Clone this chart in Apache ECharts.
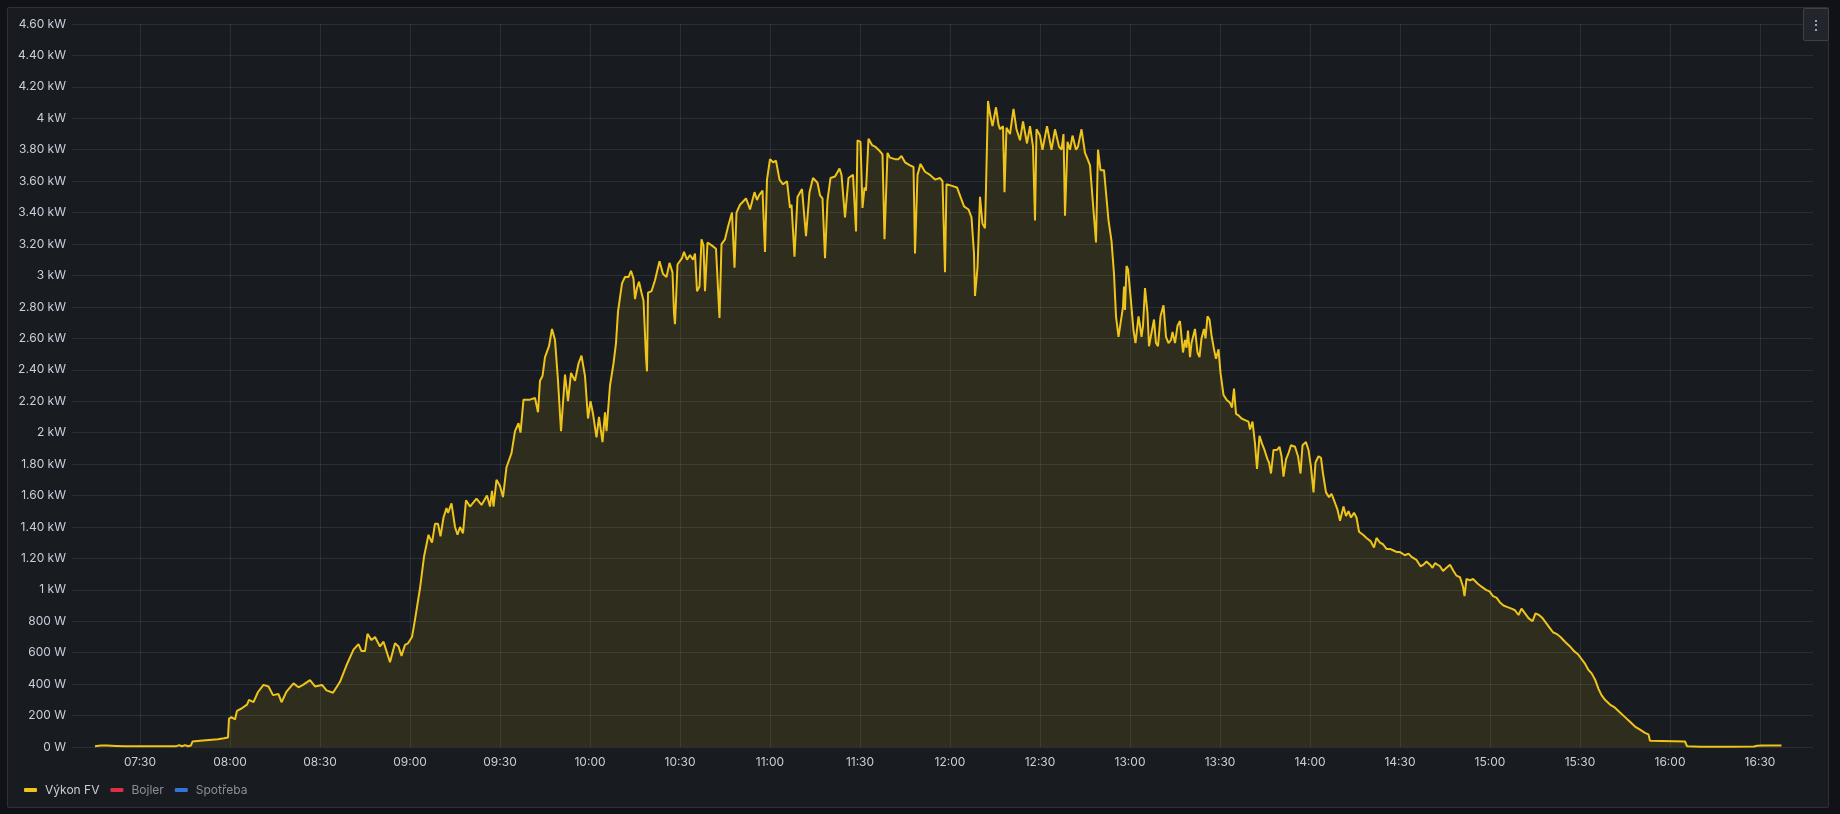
<!DOCTYPE html>
<html>
<head>
<meta charset="utf-8">
<script src="https://cdn.jsdelivr.net/npm/echarts@6/dist/echarts.min.js"></script>
<style>
  html, body { margin:0; padding:0; width:1840px; height:814px; background:#111217; overflow:hidden; }
  #panel { position:absolute; left:7px; top:7px; width:1822px; height:801px; box-sizing:border-box;
           border:1px solid rgba(204,204,220,0.12); border-radius:2px; background:#181b1f; }
  #chart { position:absolute; left:0; top:0; width:1840px; height:814px; z-index:1; }
  #menu { position:absolute; left:1803px; top:8px; width:26px; height:33px; box-sizing:border-box; z-index:2;
          border:1px solid rgba(204,204,220,0.16); border-radius:2px; background:#22252b;
          color:#ccccdc; font:14px Inter, sans-serif; line-height:31px; text-align:center; }
</style>
</head>
<body>
<div id="panel"></div>
<div id="chart"></div>
<div id="menu">⋮</div>
<script>
// ---- data ----
const timeLabels = [
  "07:15:00","07:17:00","07:19:00","07:22:00","07:25:00","07:35:00","07:42:00","07:43:00",
  "07:44:00","07:45:00","07:46:00","07:47:00","07:47:30","07:50:00","07:53:00","07:56:00",
  "07:58:00","07:59:20","07:59:40","08:00:30","08:01:40","08:02:20","08:03:50","08:05:40",
  "08:06:20","08:07:50","08:09:20","08:11:10","08:12:50","08:14:20","08:16:10","08:17:10",
  "08:18:50","08:21:10","08:22:50","08:24:20","08:26:40","08:28:20","08:30:40","08:32:10",
  "08:34:20","08:36:40","08:38:50","08:41:10","08:42:50","08:43:50","08:45:00","08:45:50",
  "08:47:10","08:48:20","08:50:00","08:51:10","08:53:20","08:55:00","08:56:10","08:57:10",
  "08:58:20","08:59:20","09:00:40","09:01:40","09:03:20","09:04:40","09:06:10","09:06:50",
  "09:07:20","09:08:20","09:09:20","09:10:10","09:11:10","09:12:10","09:12:40","09:13:50",
  "09:15:00","09:15:50","09:16:40","09:17:40","09:18:40","09:20:00","09:22:10","09:23:50",
  "09:25:40","09:26:40","09:27:20","09:27:50","09:28:50","09:30:00","09:31:00","09:32:10",
  "09:33:50","09:35:00","09:36:10","09:36:50","09:37:50","09:40:00","09:41:40","09:42:40",
  "09:43:20","09:44:10","09:45:00","09:46:20","09:47:20","09:48:20","09:49:20","09:50:20",
  "09:51:40","09:52:40","09:53:40","09:55:00","09:56:10","09:57:10","09:58:20","09:59:20",
  "10:00:10","10:01:00","10:02:10","10:03:00","10:04:10","10:05:00","10:05:30","10:06:40",
  "10:07:50","10:08:40","10:09:20","10:10:40","10:11:40","10:12:50","10:13:40","10:14:30",
  "10:15:00","10:15:40","10:16:20","10:17:10","10:17:50","10:18:40","10:19:00","10:19:20",
  "10:20:30","10:21:40","10:23:10","10:24:20","10:25:30","10:26:30","10:27:30","10:28:00",
  "10:28:20","10:29:10","10:30:40","10:31:20","10:32:20","10:33:20","10:34:20","10:35:00",
  "10:35:40","10:36:30","10:37:10","10:37:50","10:38:20","10:39:10","10:40:40","10:42:00",
  "10:42:40","10:43:10","10:43:50","10:45:00","10:46:00","10:47:20","10:48:10","10:48:50",
  "10:50:00","10:52:00","10:53:20","10:54:50","10:55:40","10:56:20","10:57:30","10:58:20",
  "10:59:00","11:00:00","11:01:00","11:02:00","11:03:10","11:04:20","11:05:40","11:06:40",
  "11:07:10","11:08:10","11:09:10","11:10:40","11:12:00","11:13:10","11:14:20","11:15:50",
  "11:16:40","11:17:30","11:18:20","11:19:10","11:20:10","11:21:40","11:23:10","11:23:50",
  "11:25:00","11:26:10","11:27:40","11:28:40","11:29:10","11:30:10","11:30:50","11:31:30",
  "11:32:00","11:32:50","11:34:00","11:35:00","11:36:40","11:37:30","11:38:10","11:39:10",
  "11:40:00","11:41:40","11:42:50","11:43:50","11:45:00","11:46:40","11:47:50","11:48:20",
  "11:49:10","11:50:10","11:51:40","11:53:20","11:55:00","11:56:40","11:57:30","11:58:20",
  "11:58:50","12:00:40","12:02:20","12:03:30","12:04:40","12:06:10","12:07:10","12:08:00",
  "12:08:20","12:09:10","12:10:00","12:10:50","12:11:40","12:12:00","12:12:40","12:13:20",
  "12:14:10","12:15:20","12:16:10","12:16:40","12:17:40","12:18:10","12:18:50","12:20:00",
  "12:21:10","12:22:10","12:23:20","12:24:20","12:25:40","12:26:40","12:27:40","12:28:20",
  "12:28:50","12:30:00","12:30:50","12:32:20","12:33:50","12:35:00","12:36:20","12:37:10",
  "12:37:50","12:38:20","12:39:10","12:40:00","12:40:50","12:42:00","12:42:40","12:43:50",
  "12:45:00","12:45:40","12:46:40","12:47:10","12:48:40","12:49:20","12:50:10","12:51:20",
  "12:52:50","12:53:50","12:54:40","12:55:20","12:56:10","12:56:50","12:57:40","12:58:00",
  "12:58:20","12:58:50","12:59:20","13:00:10","13:01:10","13:01:50","13:02:50","13:03:20",
  "13:03:50","13:04:20","13:05:00","13:05:50","13:06:20","13:07:00","13:08:00","13:08:40",
  "13:09:20","13:10:10","13:11:10","13:12:00","13:12:50","13:13:40","13:14:10","13:15:00",
  "13:15:50","13:16:40","13:17:40","13:18:20","13:18:50","13:19:20","13:20:00","13:20:30",
  "13:21:40","13:22:30","13:23:10","13:23:50","13:24:40","13:25:10","13:25:50","13:26:30",
  "13:27:10","13:28:00","13:28:40","13:29:30","13:30:10","13:31:10","13:32:10","13:33:20",
  "13:34:00","13:34:40","13:35:20","13:36:10","13:37:10","13:38:20","13:39:30","13:40:00",
  "13:40:50","13:41:40","13:42:20","13:43:10","13:44:00","13:44:50","13:45:50","13:46:20",
  "13:47:00","13:47:50","13:49:00","13:49:50","13:50:30","13:51:10","13:52:00","13:52:50",
  "13:53:40","13:55:00","13:56:00","13:56:50","13:57:30","13:58:40","13:59:30","14:00:20",
  "14:01:10","14:01:50","14:02:50","14:03:40","14:04:20","14:05:20","14:06:20","14:07:10",
  "14:08:00","14:09:10","14:10:00","14:11:10","14:12:00","14:12:50","14:13:40","14:14:40",
  "14:15:30","14:16:20","14:17:40","14:18:50","14:20:10","14:21:20","14:22:10","14:23:20",
  "14:24:20","14:25:30","14:26:40","14:27:50","14:29:00","14:30:00","14:31:40","14:32:50",
  "14:33:50","14:35:30","14:36:50","14:37:50","14:38:50","14:40:00","14:40:50","14:41:40",
  "14:42:20","14:43:20","14:44:20","14:45:30","14:46:40","14:47:50","14:48:50","14:50:00",
  "14:50:30","14:51:00","14:51:30","14:52:10","14:53:20","14:54:20","14:55:50","14:57:10",
  "14:58:40","14:59:50","15:01:00","15:02:10","15:03:20","15:04:30","15:05:50","15:07:10",
  "15:08:20","15:09:30","15:10:30","15:11:40","15:12:50","15:14:10","15:15:10","15:16:20",
  "15:17:30","15:18:40","15:19:50","15:21:00","15:22:10","15:23:30","15:25:00","15:26:40",
  "15:28:00","15:29:20","15:30:30","15:31:40","15:32:50","15:33:50","15:35:00","15:36:10",
  "15:37:10","15:38:20","15:40:00","15:41:40","15:43:20","15:45:00","15:46:40","15:48:20",
  "15:50:00","15:51:40","15:52:50","15:53:20","15:54:00","16:05:00","16:05:40","16:10:00",
  "16:20:00","16:28:00","16:29:00","16:30:30","16:37:10"
];
// Výkon FV, watts
const pvPowerW = [
  5,10,10,7,4,4,4,12,
  5,12,5,10,35,40,45,50,
  55,60,180,190,175,230,245,270,
  300,285,350,395,385,330,337,285,
  352,405,380,395,425,385,395,360,
  345,415,520,620,655,610,610,720,
  680,700,640,670,540,660,640,580,
  650,660,700,810,1010,1210,1350,1360,
  1300,1420,1420,1340,1460,1520,1490,1550,
  1400,1350,1400,1360,1570,1530,1580,1540,
  1600,1530,1630,1530,1700,1660,1590,1780,
  1870,2010,2060,2000,2210,2210,2220,2130,
  2330,2360,2480,2550,2660,2590,2330,2010,
  2370,2200,2380,2330,2440,2490,2360,2090,
  2200,2120,1970,2100,1940,2130,2010,2300,
  2440,2570,2770,2950,2990,2990,3030,2980,
  2850,2920,2960,2890,2840,2480,2390,2890,
  2900,2970,3090,3010,2990,3080,3020,2760,
  2690,3070,3110,3150,3100,3130,3100,3140,
  2900,2930,3230,3190,2900,3210,3190,3170,
  3170,2730,3200,3230,3310,3400,3050,3400,
  3450,3490,3420,3530,3480,3510,3540,3150,
  3610,3740,3720,3730,3610,3580,3600,3430,
  3450,3120,3500,3550,3250,3530,3620,3590,
  3510,3490,3110,3480,3620,3630,3680,3640,
  3370,3620,3640,3280,3860,3850,3430,3560,
  3540,3870,3830,3820,3790,3770,3230,3780,
  3750,3740,3740,3760,3720,3700,3690,3140,
  3640,3710,3660,3640,3610,3620,3600,3020,
  3580,3570,3560,3500,3440,3420,3370,3140,
  2870,3050,3500,3330,3300,3560,4110,4030,
  3950,4070,3960,3930,3950,3530,3940,3900,
  4060,3930,3860,3980,3840,3950,3820,3350,
  3930,3890,3800,3950,3800,3930,3820,3800,
  3900,3380,3850,3800,3890,3800,3820,3930,
  3780,3750,3700,3710,3210,3800,3670,3670,
  3350,3220,3010,2740,2610,2600,2800,2930,
  2780,3060,3040,2870,2650,2570,2740,2680,
  2610,2680,2920,2760,2550,2540,2720,2570,
  2550,2740,2810,2610,2570,2590,2640,2570,
  2680,2710,2510,2590,2540,2650,2480,2570,
  2660,2510,2480,2600,2660,2600,2740,2720,
  2620,2530,2470,2530,2380,2240,2210,2190,
  2160,2280,2120,2110,2090,2080,2070,2020,
  2070,1930,1770,1980,1930,1890,1830,1810,
  1740,1890,1890,1910,1850,1720,1830,1870,
  1920,1910,1850,1740,1920,1940,1890,1780,
  1620,1810,1850,1840,1740,1620,1590,1610,
  1570,1510,1440,1530,1470,1500,1460,1490,
  1460,1370,1350,1330,1310,1270,1330,1300,
  1290,1260,1260,1250,1240,1240,1220,1230,
  1210,1190,1150,1160,1180,1160,1140,1170,
  1180,1150,1120,1140,1160,1120,1090,1080,
  1070,1020,960,1070,1060,1070,1040,1020,
  1000,990,960,950,920,900,890,880,
  870,840,880,850,820,800,850,840,
  820,790,760,730,720,700,670,640,
  610,590,560,530,490,470,430,370,
  330,300,270,250,220,190,160,130,
  110,90,80,40,35,35,5,2,
  2,3,8,10,10
];
const bojlerW = [];
const spotrebaW = [];
const seriesNames = ["Výkon FV", "Bojler", "Spotřeba"];
const yTickLabels = ["0 W","200 W","400 W","600 W","800 W","1 kW","1.20 kW","1.40 kW","1.60 kW","1.80 kW",
  "2 kW","2.20 kW","2.40 kW","2.60 kW","2.80 kW","3 kW","3.20 kW","3.40 kW","3.60 kW","3.80 kW",
  "4 kW","4.20 kW","4.40 kW","4.60 kW"];
const axisStart = "07:07:20";   // left edge of the plot
const axisEnd = "16:47:40";     // right edge of the plot
const tickAnchor = "07:00:00";  // 30-minute tick grid is counted from here
const tickStepMin = 30;

if (timeLabels.length !== pvPowerW.length) {
  throw new Error("length mismatch " + timeLabels.length + " vs " + pvPowerW.length);
}

function toMin(s) {
  const p = s.split(":").map(Number);
  return p[0] * 60 + p[1] + (p[2] || 0) / 60;
}
const pvData = timeLabels.map((t, i) => [toMin(t), pvPowerW[i]]);

const pad = n => (n < 10 ? "0" : "") + n;
const fmtMin = v => { const m = Math.round(v); return pad(Math.floor(m / 60)) + ":" + pad(m % 60); };

const PLOT_LEFT = 72, PLOT_RIGHT = 27, PLOT_TOP = 24, PLOT_BOTTOM = 67;
const W = 1840;
const pxPerMin = (W - PLOT_LEFT - PLOT_RIGHT) / (toMin(axisEnd) - toMin(axisStart));
const tickGridLeft = PLOT_LEFT - (toMin(axisStart) - toMin(tickAnchor)) * pxPerMin;

const chart = echarts.init(document.getElementById("chart"), null, { renderer: "canvas" });
const gridColor = "rgba(240,250,255,0.09)";
const textColor = "#ccccdc";
const font = "Inter";
const lineColor = "#eec41a";

chart.setOption({
  backgroundColor: "transparent",
  animation: false,
  textStyle: { fontFamily: font },
  grid: [
    { left: PLOT_LEFT, right: PLOT_RIGHT, top: PLOT_TOP, bottom: PLOT_BOTTOM, containLabel: false },
    { left: tickGridLeft, right: PLOT_RIGHT, top: PLOT_TOP, bottom: PLOT_BOTTOM, containLabel: false }
  ],
  xAxis: [
    {
      type: "value", gridIndex: 0,
      min: toMin(axisStart), max: toMin(axisEnd),
      axisLine: { show: false }, axisTick: { show: false },
      axisLabel: { show: false }, splitLine: { show: false }
    },
    {
      type: "value", gridIndex: 1,
      min: toMin(tickAnchor), max: toMin(axisEnd), interval: tickStepMin,
      axisLine: { show: false }, axisTick: { show: false },
      splitLine: { show: true, showMinLine: false, showMaxLine: false, lineStyle: { color: gridColor, width: 1 } },
      axisLabel: {
        color: textColor, fontSize: 12, fontFamily: font, margin: 9,
        showMinLabel: false, showMaxLabel: false,
        formatter: v => (Math.abs(v - toMin(tickAnchor)) < 0.01 || v > toMin(axisEnd) - 1) ? "" : fmtMin(v)
      }
    }
  ],
  yAxis: [
    {
      type: "value", gridIndex: 0,
      min: 0, max: 4600, interval: 200,
      axisLine: { show: false }, axisTick: { show: false },
      splitLine: { show: true, lineStyle: { color: gridColor, width: 1 } },
      axisLabel: {
        color: textColor, fontSize: 12, fontFamily: font, margin: 6,
        formatter: v => yTickLabels[Math.round(v / 200)]
      }
    },
    { type: "value", gridIndex: 1, min: 0, max: 1, show: false }
  ],
  legend: {
    left: 19, top: 779,
    icon: "roundRect", itemWidth: 13, itemHeight: 4, itemGap: 11,
    selectedMode: false,
    textStyle: { color: textColor, fontSize: 12, fontFamily: font, padding: [0, 0, 0, 3] },
    data: [
      { name: seriesNames[0] },
      { name: seriesNames[1], textStyle: { color: "#8e8e98" } },
      { name: seriesNames[2], textStyle: { color: "#8e8e98" } }
    ]
  },
  series: [
    {
      name: seriesNames[0], type: "line", xAxisIndex: 0, yAxisIndex: 0,
      data: pvData, showSymbol: false, symbol: "none",
      color: lineColor,
      lineStyle: { color: lineColor, width: 2 },
      areaStyle: { color: "rgba(238,196,26,0.15)" },
      emphasis: { disabled: true }
    },
    { name: seriesNames[1], type: "line", xAxisIndex: 0, yAxisIndex: 0, data: bojlerW, color: "#e02f44", showSymbol: false, lineStyle: { color: "#e02f44" } },
    { name: seriesNames[2], type: "line", xAxisIndex: 0, yAxisIndex: 0, data: spotrebaW, color: "#3274d9", showSymbol: false, lineStyle: { color: "#3274d9" } }
  ]
});
</script>
</body>
</html>
